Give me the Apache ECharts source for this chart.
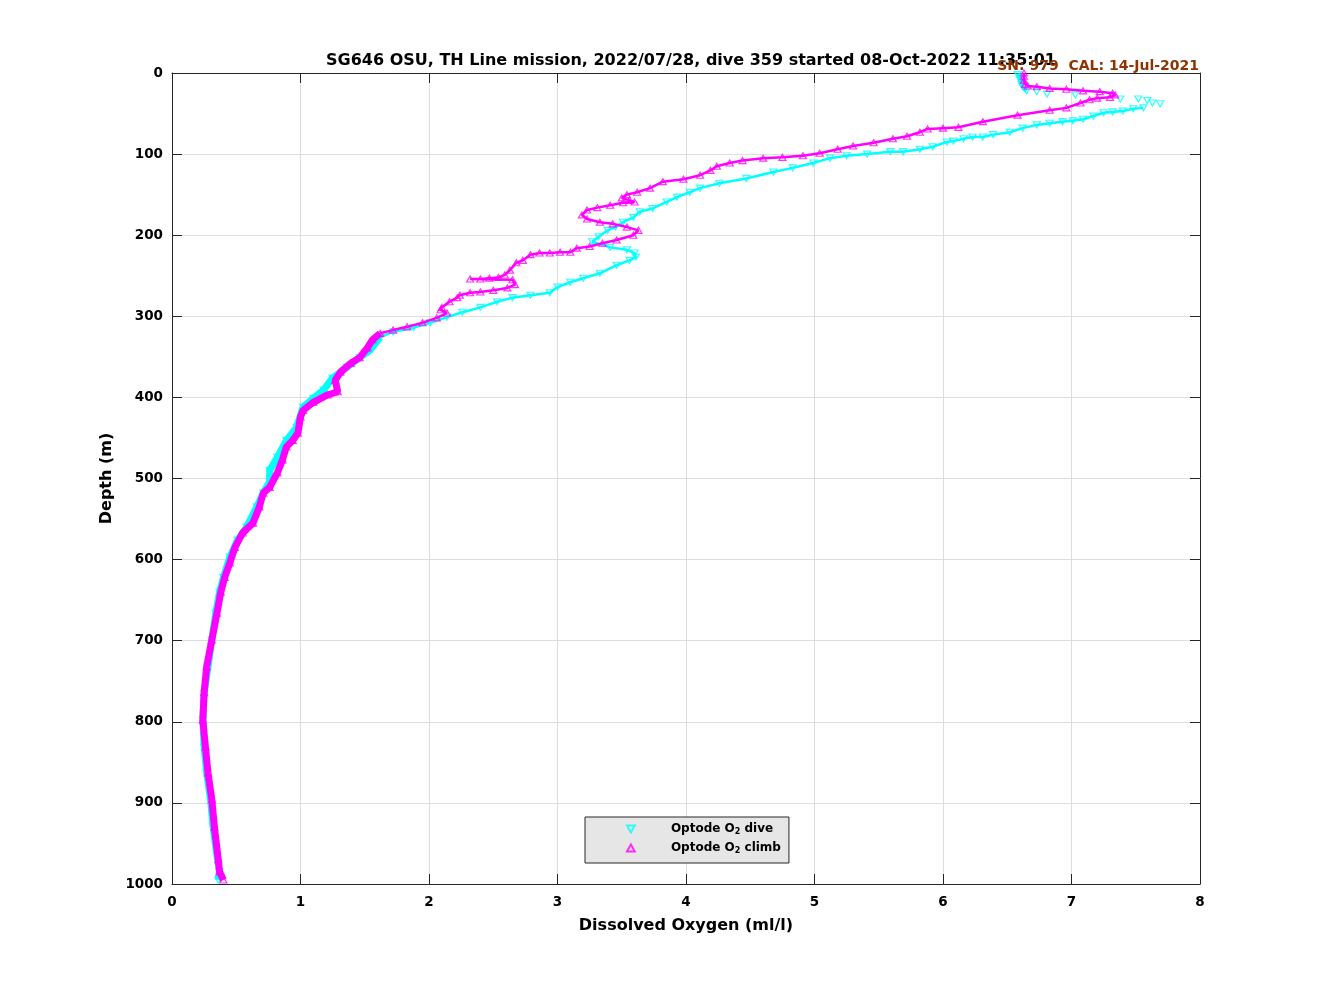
<!DOCTYPE html>
<html>
<head>
<meta charset="utf-8">
<script src="https://cdn.jsdelivr.net/npm/echarts@6/dist/echarts.min.js"></script>
<style>
html,body{margin:0;padding:0;background:#fff;}
#chart{width:1328px;height:996px;}
</style>
</head>
<body>
<div id="chart"></div>
<script>
// ---- data ----
const titleText = 'SG646 OSU, TH Line mission, 2022/07/28, dive 359 started 08-Oct-2022 11:35:01';
const calText = 'SN: 979  CAL: 14-Jul-2021';
const seriesNames = ['Optode O2 dive', 'Optode O2 climb'];
const xTicks = [0, 1, 2, 3, 4, 5, 6, 7, 8];
const yTicks = [0, 100, 200, 300, 400, 500, 600, 700, 800, 900, 1000];

// dive (cyan, downward triangles): dissolved oxygen (ml/l) and depth (m)
const diveO2 = [6.58,6.60,6.60,6.61,6.61,6.62,6.65,6.73,6.81,7.03,7.38,7.52,7.59,7.63,7.69,
  7.56,7.48,7.40,7.32,7.25,7.17,7.09,7.01,6.93,6.83,6.73,6.62,6.52,6.39,6.31,6.23,6.16,6.08,
  6.03,5.92,5.82,5.69,5.59,5.41,5.25,5.12,4.99,4.83,4.68,4.47,4.26,4.11,4.03,3.93,3.85,3.74,
  3.64,3.59,3.51,3.45,3.39,3.32,3.27,3.41,3.54,3.60,3.61,3.56,3.46,3.33,3.20,3.10,3.00,2.94,
  2.79,2.65,2.53,2.40,2.26,2.14,2.01,1.88,1.72,1.62,
  1.54,1.46,1.36,1.25,1.18,1.10,1.02,0.97,0.89,0.82,0.76,0.76,0.71,0.66,0.58,0.51,0.45,0.40,
  0.37,0.34,0.31,0.28,0.25,0.24,0.25,0.27,0.30,0.32,0.35,0.37,0.36];
const diveDepth = [2,5,8,11,14,17,22,23,26,27,32,32,34,37,38,
  43,44,47,48,49,53,57,59,60,62,64,68,73,76,79,79,81,84,
  85,91,94,97,97,100,102,105,111,117,122,130,136,142,147,153,159,167,
  171,178,184,190,194,202,208,215,218,222,227,231,237,247,253,258,264,271,
  274,277,282,289,295,301,308,314,319,326,
  342,351,363,376,391,401,412,437,453,474,490,504,518,535,560,576,597,622,
  640,666,699,732,765,798,831,863,896,930,965,985,995];

// climb (magenta, upward triangles)
const climbO2 = [6.63,6.63,6.63,6.64,6.66,6.73,6.83,6.96,7.09,7.22,7.32,7.34,7.30,7.20,7.14,
  7.07,6.96,6.83,6.58,6.31,6.12,6.00,5.88,5.82,5.72,5.61,5.46,5.30,5.18,5.04,4.91,4.75,4.60,
  4.44,4.34,4.24,4.19,4.11,3.98,3.82,3.72,3.62,3.54,3.50,3.56,3.60,3.51,3.41,3.31,3.23,3.19,
  3.23,3.33,3.43,3.54,3.63,3.59,3.46,3.35,3.25,3.15,3.10,3.02,2.94,2.86,2.79,2.73,2.68,2.63,
  2.59,2.54,2.47,2.40,2.32,2.65,2.67,2.61,2.50,2.40,2.32,2.24,2.22,2.16,2.10,2.09,2.14,2.06,
  1.95,1.83,1.72,1.62,
  1.56,1.52,1.46,1.39,1.31,1.27,1.29,1.21,1.10,1.02,1.00,0.98,0.94,0.89,0.86,0.82,0.76,0.71,
  0.68,0.63,0.55,0.49,0.45,0.41,0.38,0.35,0.31,0.27,0.25,0.24,0.26,0.28,0.31,0.33,0.36,0.37,0.40];
const climbDepth = [0,4,9,14,16,17,19,20,22,23,25,27,30,31,33,
  37,43,46,52,60,67,68,69,73,78,81,86,90,94,99,102,104,105,
  108,111,115,120,126,131,134,142,147,150,154,157,159,160,163,166,169,175,
  180,184,186,190,194,200,206,210,214,216,221,221,222,222,224,231,234,243,
  249,252,253,254,254,255,261,265,268,270,271,274,277,282,289,292,296,302,
  308,313,317,321,
  329,339,351,358,369,379,393,397,406,416,424,444,453,461,477,493,511,518,
  535,555,567,585,604,622,640,666,699,732,764,798,831,863,896,930,970,985,995];

// ---- build series data ----
function pairs(xs, ys) { return xs.map((v, i) => [v, ys[i]]); }
const divePts = pairs(diveO2, diveDepth);
const climbPts = pairs(climbO2, climbDepth);
const bandStart = 320;
const diveBand = divePts.filter(p => p[1] >= bandStart);
const climbBand = climbPts.filter(p => p[1] >= bandStart);
const diveTop = divePts.filter(p => p[1] <= 22);
const diveChain = divePts.filter(p => p[1] >= 40 && p[1] <= bandStart + 10);
const climbChain = climbPts.filter(p => p[1] <= bandStart + 5);

const CYAN = '#00ffff', MAGENTA = '#ff00ff';
const FONT = 'DejaVu Sans';

const chart = echarts.init(document.getElementById('chart'), null, {renderer: 'canvas'});

const tickStyle = {show: true, inside: true, length: 10, lineStyle: {color: '#262626', width: 1}};
const lineStyleAxis = {show: true, onZero: false, lineStyle: {color: '#262626', width: 1}};

function chainSeries(name, data, color, width, z) {
  return {name: name, type: 'line', data: data, showSymbol: false, symbol: 'none',
    lineStyle: {color: color, width: width}, silent: true, z: z};
}

chart.setOption({
  animation: false,
  backgroundColor: '#ffffff',
  title: [{
    text: titleText,
    left: 686, top: 48, textAlign: 'center',
    textStyle: {fontFamily: FONT, fontWeight: 'bold', fontSize: 16, color: '#000'}
  }, {
    text: calText,
    right: 124, top: 54,
    textStyle: {fontFamily: FONT, fontWeight: 'bold', fontSize: 14, color: '#8f3300'}
  }],
  grid: {left: 172, right: 128, top: 73, bottom: 112, containLabel: false},
  legend: {
    data: [
      {name: seriesNames[0], icon: 'path://M0,0 L10,0 L5,9 Z'},
      {name: seriesNames[1], icon: 'path://M5,0 L10,9 L0,9 Z'}
    ],
    orient: 'vertical',
    left: 585, top: 817,
    itemWidth: 8, itemHeight: 7, itemGap: 4,
    padding: [4, 8, 8, 41],
    backgroundColor: '#e6e6e6',
    borderColor: '#262626', borderWidth: 1, borderRadius: 0,
    formatter: function (name) { return '{gap|}' + name.replace('O2', 'O{sub|2}'); },
    textStyle: {
      fontFamily: FONT, fontWeight: 'bold', fontSize: 12, color: '#000', lineHeight: 14,
      rich: {
        gap: {width: 31, lineHeight: 14},
        sub: {fontFamily: FONT, fontWeight: 'bold', fontSize: 8, color: '#000', verticalAlign: 'bottom', padding: [7, 0, 0, 0], lineHeight: 14}
      }
    }
  },
  xAxis: [{
    type: 'value', position: 'bottom',
    min: xTicks[0], max: xTicks[xTicks.length - 1], interval: 1,
    name: 'Dissolved Oxygen (ml/l)', nameLocation: 'middle', nameGap: 34,
    nameTextStyle: {fontFamily: FONT, fontWeight: 'bold', fontSize: 16, color: '#000'},
    axisLine: lineStyleAxis, axisTick: tickStyle,
    axisLabel: {margin: 11, fontFamily: FONT, fontWeight: 'bold', fontSize: 13.5, color: '#000'},
    splitLine: {show: true, lineStyle: {color: '#dedede', width: 1}}
  }, {
    type: 'value', position: 'top',
    min: xTicks[0], max: xTicks[xTicks.length - 1], interval: 1,
    axisLine: lineStyleAxis, axisTick: tickStyle,
    axisLabel: {show: false}, splitLine: {show: false}
  }],
  yAxis: [{
    type: 'value', position: 'left', inverse: true,
    min: yTicks[0], max: yTicks[yTicks.length - 1], interval: 100,
    name: 'Depth (m)', nameLocation: 'middle', nameGap: 41,
    nameTextStyle: {fontFamily: FONT, fontWeight: 'bold', fontSize: 16, color: '#000'},
    axisLine: lineStyleAxis, axisTick: tickStyle,
    axisLabel: {margin: 9, fontFamily: FONT, fontWeight: 'bold', fontSize: 13.5, color: '#000',
      formatter: function (v) { return String(v); }},
    splitLine: {show: true, lineStyle: {color: '#dedede', width: 1}}
  }, {
    type: 'value', position: 'right', inverse: true,
    min: yTicks[0], max: yTicks[yTicks.length - 1], interval: 100,
    axisLine: lineStyleAxis, axisTick: tickStyle,
    axisLabel: {show: false}, splitLine: {show: false}
  }],
  series: [
    chainSeries('dive band', diveBand, CYAN, 7, 2),
    chainSeries('dive chain', diveChain, CYAN, 2.5, 2),
    chainSeries('dive top', diveTop, CYAN, 4, 2),
    {
      name: seriesNames[0], type: 'scatter', data: divePts,
      symbol: 'triangle', symbolRotate: 180, symbolSize: [7, 6],
      itemStyle: {color: 'rgba(255,255,255,0)', borderColor: CYAN, borderWidth: 1.2},
      z: 3
    },
    chainSeries('climb band', climbBand, MAGENTA, 7, 4),
    chainSeries('climb chain', climbChain, MAGENTA, 2.5, 4),
    {
      name: seriesNames[1], type: 'scatter', data: climbPts,
      symbol: 'triangle', symbolSize: [7, 6],
      itemStyle: {color: 'rgba(255,255,255,0)', borderColor: MAGENTA, borderWidth: 1.2},
      z: 5
    }
  ]
});
</script>
</body>
</html>
